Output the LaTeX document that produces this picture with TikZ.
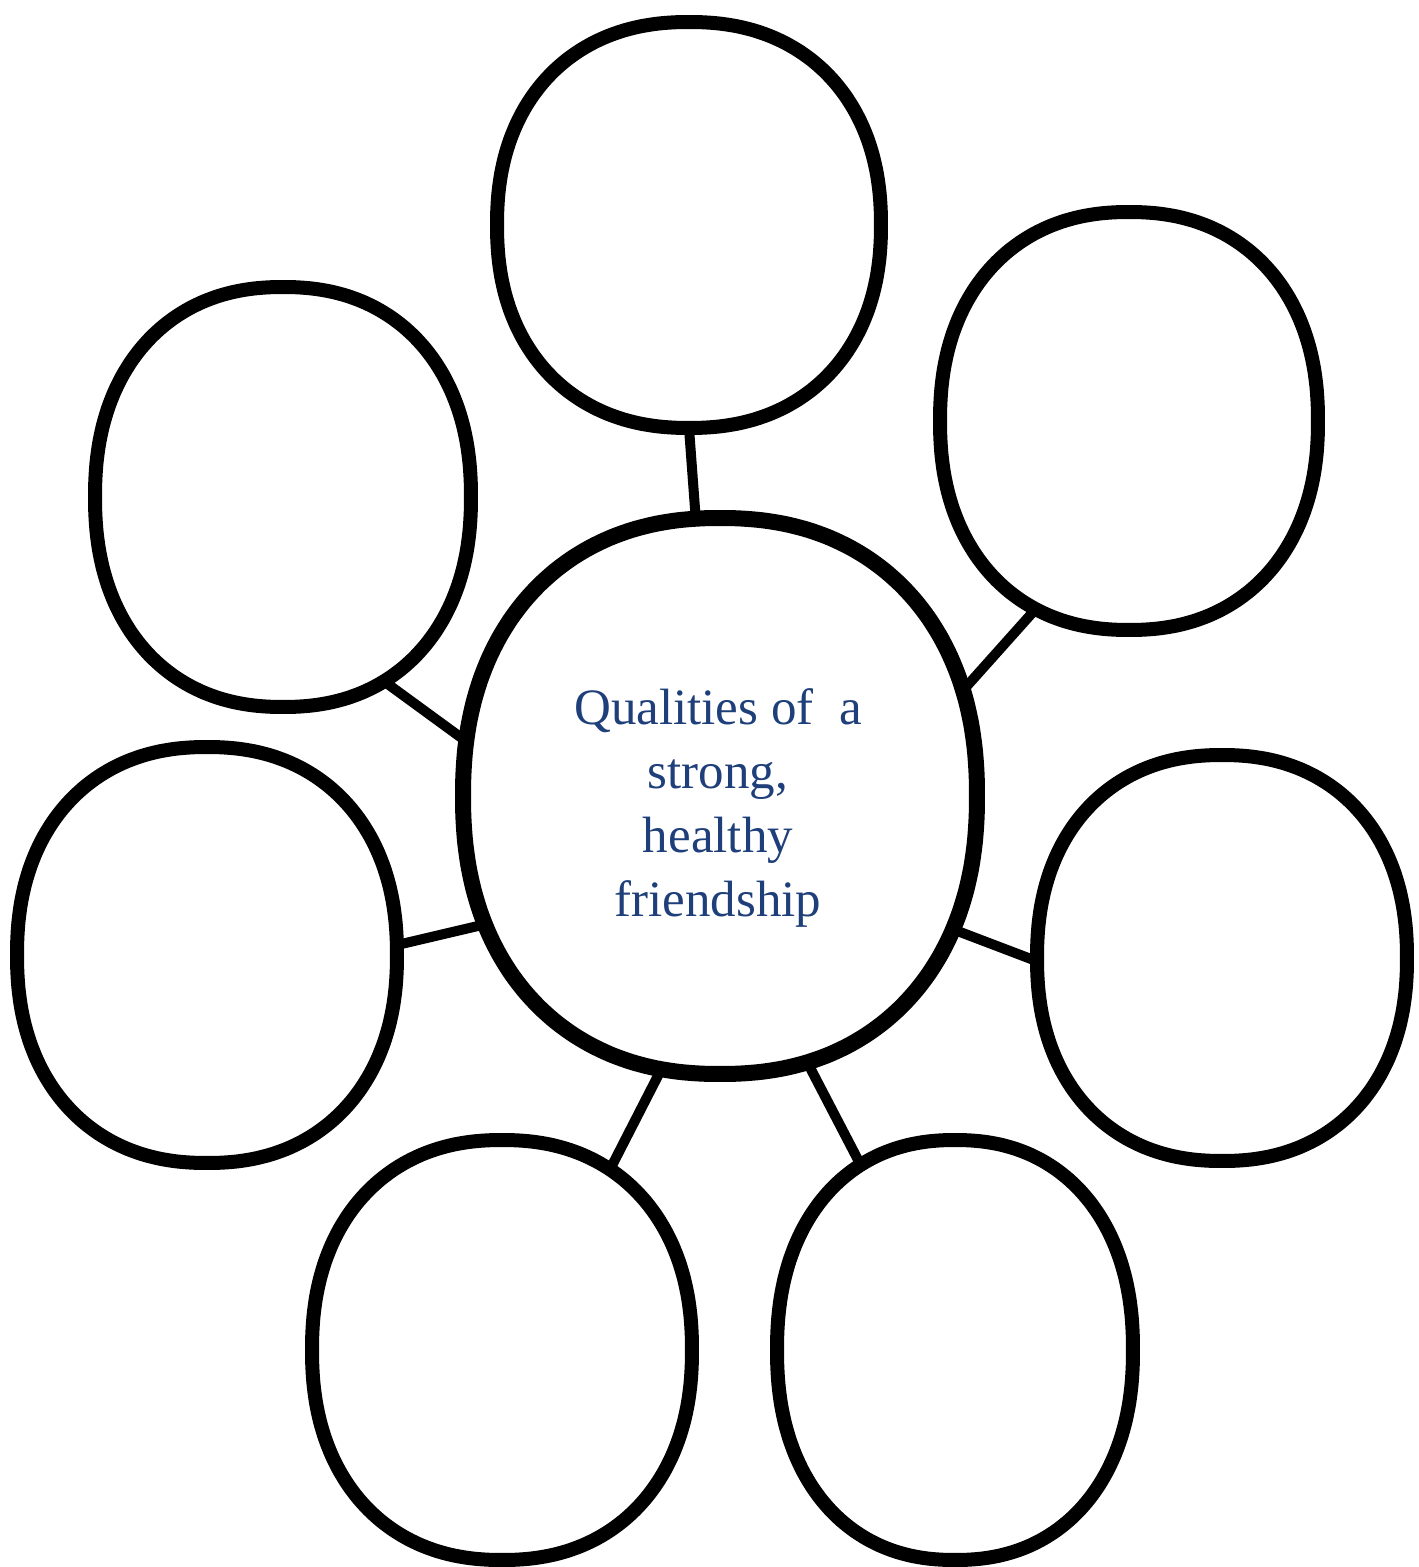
\documentclass[tikz,border=0pt]{standalone}
\usepackage{fontspec}
\setmainfont{Liberation Serif}
\usetikzlibrary{shapes.geometric,backgrounds}
\definecolor{qblue}{HTML}{1F3F7A}
\tikzset{
  anchorshape/.style={ellipse, draw=none, inner sep=0pt, outer sep=0pt},
  blobline/.style={draw=black, fill=white, line join=round},
  link/.style={draw=black, line width=0.10cm},
  lbl/.style={text=qblue, align=center, font=\fontsize{14.5}{18.2}\selectfont}
}
% #1 name, #2 cx, #3 cy, #4 half width, #5 half height, #6 line width
\newcommand\mybubble[6]{%
  \node[anchorshape, minimum width={#4*0.02cm}, minimum height={#5*0.02cm}] (#1) at (#2,#3) {};
  \draw[blobline, line width=#6] plot[smooth cycle, domain=2.5:357.5, samples=72, variable=\t]
    ({#2 + #4*cos(\t)*abs(cos(\t))^(-0.1)}, {#3 - #5*sin(\t)*abs(sin(\t))^(-0.1)});
}
\begin{document}
\begin{tikzpicture}[x=0.01cm,y=-0.01cm]
\useasboundingbox (0,0) rectangle (1418,1567);
\mybubble{hubc}{720}{796}{257}{278}{0.16cm}
\mybubble{top}{689}{225}{192}{203}{0.14cm}
\mybubble{ur}{1129}{421}{189}{209}{0.14cm}
\mybubble{ul}{283}{497}{188}{210}{0.14cm}
\mybubble{l}{207}{955}{190}{208}{0.14cm}
\mybubble{r}{1222}{958}{185}{203}{0.14cm}
\mybubble{bl}{502}{1350}{190}{210}{0.14cm}
\mybubble{br}{955}{1350}{178}{210}{0.14cm}
\begin{scope}[on background layer]
\draw[link] (top.-90) -- (hubc.95.6);
\draw[link] (ur.-116.5) -- (hubc.23.5);
\draw[link] (ul.-62.2) -- (hubc.168.5);
\draw[link] (l.3) -- (hubc.209);
\draw[link] (r.181) -- (hubc.-30.8);
\draw[link] (bl.59.5) -- (hubc.-102.5);
\draw[link] (br.117.6) -- (hubc.-72.5);
\end{scope}
\node[lbl] (txt) at (718,808) {Qualities of\ \ a\\strong,\\healthy\\friendship};
\end{tikzpicture}
\end{document}
